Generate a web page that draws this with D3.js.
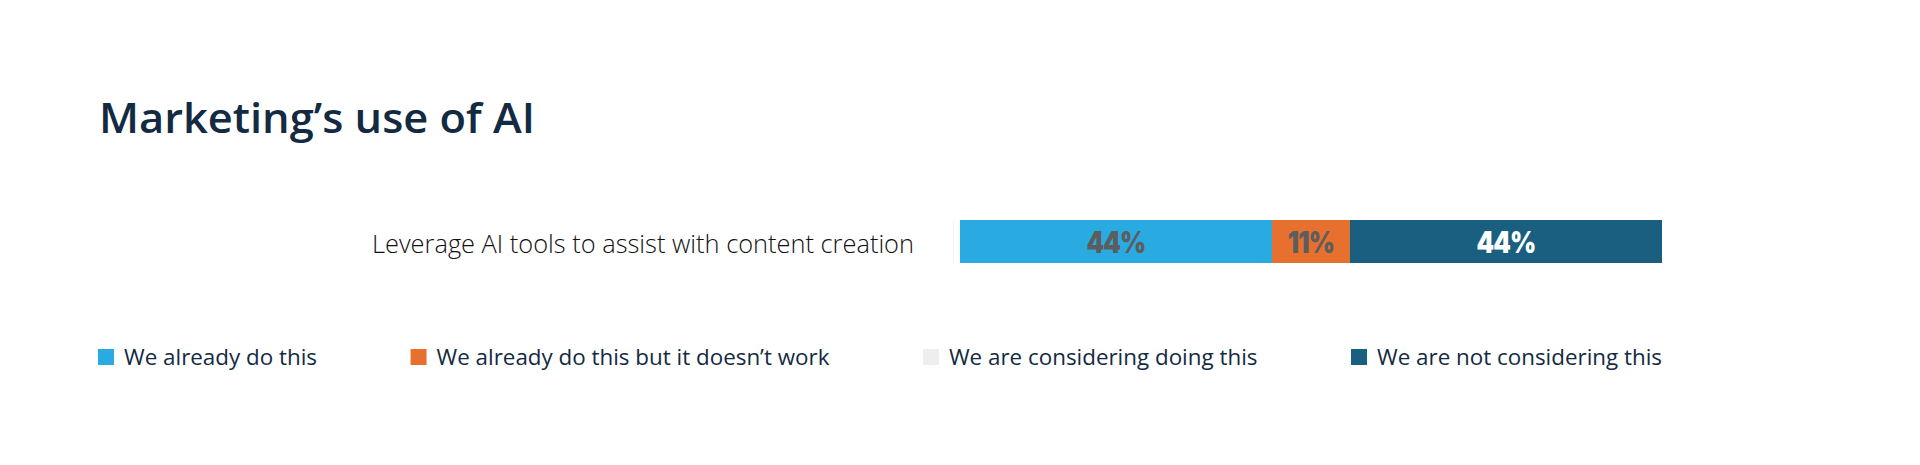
<!DOCTYPE html>
<html>
<head>
<meta charset="utf-8">
<script src="https://cdn.jsdelivr.net/npm/d3@7/dist/d3.min.js"></script>
<style>
  html, body { margin: 0; padding: 0; background: #ffffff; }
  svg { display: block; }
</style>
</head>
<body>
<svg id="chart" width="1920" height="465"></svg>
<script>
// ---- data ----
const title = "Marketing\u2019s use of AI";
const categories = ["Leverage AI tools to assist with content creation"];
const seriesNames = [
  "We already do this",
  "We already do this but it doesn\u2019t work",
  "We are considering doing this",
  "We are not considering this"
];
// share of respondents per category, one array per series (percent)
const alreadyDo = [44.4];
const alreadyDoNotWork = [11.1];
const considering = [0];
const notConsidering = [44.4];
const valueLabels = [["44%"], ["11%"], [""], ["44%"]];

// ---- styles ----
const colors = ["#29abe2", "#e8702f", "#eeeeee", "#1a5f80"];
const labelColors = ["#5d5d5d", "#5d5d5d", "#5d5d5d", "#ffffff"];
const navy = "#142a42";

const svg = d3.select("#chart");
const seriesValues = [alreadyDo, alreadyDoNotWork, considering, notConsidering];

function squeeze(sel, target) {
  const w = sel.node().getComputedTextLength();
  if (w > 0) sel.attr("textLength", target).attr("lengthAdjust", "spacingAndGlyphs");
}

// title
const t = svg.append("text")
  .attr("x", 99).attr("y", 133)
  .attr("fill", navy)
  .style("font-family", "'Open Sans', 'Noto Sans', sans-serif")
  .style("font-weight", 600)
  .style("font-size", "42px")
  .text(title);
squeeze(t, 436);

// scales
const totals = categories.map((c, i) => d3.sum(seriesValues, s => s[i]));
const x = d3.scaleLinear().domain([0, d3.max(totals)]).range([960, 1662]);
const y = d3.scaleBand().domain(categories).range([220, 263]).padding(0);

// stacked data
const rows = categories.map((c, i) => {
  const r = { category: c };
  seriesNames.forEach((n, k) => r[n] = seriesValues[k][i]);
  return r;
});
const stacked = d3.stack().keys(seriesNames)(rows);

// axis (category labels)
const yAxis = svg.append("g")
  .attr("transform", "translate(953,0)")
  .call(d3.axisLeft(y).tickSize(0).tickPadding(39));
yAxis.select(".domain").attr("stroke", "#f2f2f2").attr("stroke-width", 1);
yAxis.selectAll(".tick text")
  .attr("fill", "#111111")
  .attr("dy", "0.44em")
  .style("font-family", "'Open Sans', 'Noto Sans', sans-serif")
  .style("font-weight", 300)
  .style("font-size", "25px")
  .each(function () { squeeze(d3.select(this), 542); });

// bars
const groups = svg.append("g").selectAll("g")
  .data(stacked).join("g")
  .attr("fill", (d, k) => colors[k]);
groups.selectAll("rect")
  .data(d => d.map(v => ({ v, key: d.key })))
  .join("rect")
  .attr("x", d => x(d.v[0]))
  .attr("width", d => Math.max(0, x(d.v[1]) - x(d.v[0])))
  .attr("y", d => y(d.v.data.category))
  .attr("height", y.bandwidth());

// value labels
stacked.forEach((s, k) => {
  s.forEach((v, i) => {
    if (!valueLabels[k][i]) return;
    const lab = svg.append("text")
      .attr("x", (x(v[0]) + x(v[1])) / 2)
      .attr("y", y(v.data.category) + y.bandwidth() / 2)
      .attr("dy", "0.37em")
      .attr("text-anchor", "middle")
      .attr("fill", labelColors[k])
      .style("font-family", "Inter, Roboto, sans-serif")
      .style("font-weight", 900)
      .style("font-size", "30px")
      .style("letter-spacing", "-1px")
      .text(valueLabels[k][i]);
    const w = lab.node().getComputedTextLength();
    squeeze(lab, w * 0.84);
  });
});

// legend
const legend = svg.append("g");
const items = legend.selectAll("g").data(seriesNames).join("g");
items.append("rect")
  .attr("width", 16).attr("height", 16)
  .attr("y", 349)
  .attr("fill", (d, k) => colors[k]);
const ltexts = items.append("text")
  .attr("x", 26).attr("y", 365)
  .attr("fill", navy)
  .style("font-family", "'Open Sans', 'Noto Sans', sans-serif")
  .style("font-weight", 500)
  .style("font-size", "22px")
  .text(d => d);
const natural = ltexts.nodes().map(n => n.getComputedTextLength());
const ratio = 193 / natural[0];
ltexts.each(function (d, k) { squeeze(d3.select(this), natural[k] * ratio); });
const widths = natural.map(w => 26 + w * ratio);
const gap = (1662 - 98 - d3.sum(widths)) / (widths.length - 1);
let cx = 98;
items.each(function (d, k) {
  d3.select(this).attr("transform", `translate(${cx},0)`);
  cx += widths[k] + gap;
});
</script>
</body>
</html>
